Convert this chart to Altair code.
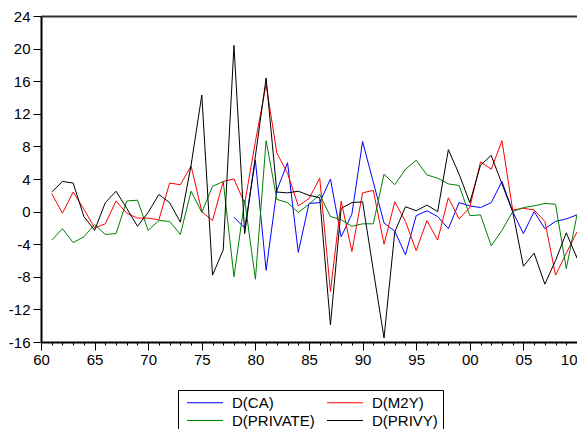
import altair as alt
import pandas as pd

FONT = "Liberation Sans"

years = list(range(1961, 2012))
privy = [2.4, 3.7, 3.5, -0.6, -2.3, 1.1, 2.5, 0.4, -1.8, -0.1,
         2.1, 1.1, -1.3, 5.7, 14.3, -7.8, -4.7, 20.4, -2.7, 6.8,
         16.4, 2.4, 2.3, 2.5, 2.0, 1.7, -13.9, 0.4, 1.1, 1.2,
         -7.2, -15.5, -2.5, 0.6, 0.1, 0.8, 0.0, 7.6, 4.6, 1.1,
         5.7, 6.9, 3.4, 0.0, -6.7, -5.1, -8.9, -6.0, -2.6, -5.7,
         7.0]
m2y = [2.2, -0.2, 2.4, 0.3, -2.0, -1.5, 1.3, -0.2, -0.8, -0.8,
       -1.0, 3.5, 3.3, 5.6, 0.0, -1.1, 3.7, 4.0, 1.0, 8.6,
       15.6, 7.2, 4.7, 0.7, 1.6, 4.1, -9.8, 1.3, -4.9, 2.3,
       2.6, -4.0, 1.2, -1.2, -4.8, -1.1, -3.5, 1.7, -0.9, 0.5,
       6.1, 5.2, 8.7, 0.2, 0.4, 0.2, -1.2, -7.8, -5.1, -2.5,
       -4.8]
private = [-3.5, -2.1, -3.8, -3.1, -1.6, -2.8, -2.7, 1.3, 1.4, -2.3,
           -1.1, -1.2, -2.8, 2.5, -0.1, 3.1, 3.7, -8.0, 1.4, -8.3,
           8.7, 1.5, 1.1, -0.1, 0.9, 2.1, -0.6, -1.0, -1.8, -1.5,
           -1.5, 4.6, 3.3, 5.2, 6.3, 4.5, 4.1, 3.4, 3.2, -0.5,
           -0.4, -4.2, -2.3, 0.0, 0.5, 0.7, 1.0, 0.9, -7.0, -0.4,
           -6.5]
ca_years = list(range(1978, 2011))
ca = [-0.7, -2.0, 6.3, -7.2, 2.6, 6.0, -5.0, 1.0, 1.1, 4.0,
      -3.1, -0.3, 8.6, 3.6, -1.4, -2.4, -5.3, -0.5, 0.1, -0.6,
      -2.1, 1.1, 0.7, 0.5, 1.1, 3.7, 0.0, -2.7, 0.0, -2.1,
      -1.2, -0.9, -0.4]

series_names = ["D(CA)", "D(M2Y)", "D(PRIVATE)", "D(PRIVY)"]
series_colors = ["#0000FF", "#FF0000", "#008000", "#000000"]

rows = []
for name, xs, vs in [("D(CA)", ca_years, ca), ("D(M2Y)", years, m2y),
                     ("D(PRIVATE)", years, private), ("D(PRIVY)", years, privy)]:
    for yr, v in zip(xs, vs):
        rows.append({"year": yr, "value": v, "series": name})
df = pd.DataFrame(rows)

major_years = list(range(1960, 2011, 5))
minor_years = list(range(1960, 2011))
y_ticks = list(range(-16, 25, 4))

xscale = alt.Scale(domain=[1960, 2010], nice=False, zero=False)
yscale = alt.Scale(domain=[-16, 24], nice=False, zero=False)

y_axis = alt.Axis(
    values=y_ticks, labelExpr="toString(datum.value)",
    tickSize=8, tickColor="black", tickWidth=1,
    domainColor="black", domainWidth=2, grid=False, title=None,
    labelFont=FONT, labelFontSize=15, labelColor="black",
    labelFlush=False, labelPadding=3, labelOverlap=False)

lines = alt.Chart(df).mark_line(strokeWidth=1, clip=True).encode(
    x=alt.X("year:Q", scale=xscale, axis=alt.Axis(
        orient="bottom",
        values=major_years, labelExpr="format(datum.value % 100, '02d')",
        labelAlign={"expr": "datum.value >= 2010 ? 'right' : 'center'"},
        tickSize=8, tickColor="black", tickWidth=1,
        domainColor="black", domainWidth=2, grid=False, title=None,
        labelFont=FONT, labelFontSize=15, labelColor="black",
        labelFlush=False, labelPadding=2, labelOverlap=False)),
    y=alt.Y("value:Q", scale=yscale, axis=y_axis),
    color=alt.Color("series:N", scale=alt.Scale(domain=series_names, range=series_colors),
                    legend=alt.Legend(
                        title=None, orient="none", legendX=137, legendY=374,
                        direction="horizontal",
                        columns=2, symbolType="M-0.7,0H6.5", symbolSize=100,
                        symbolStrokeWidth=1, labelFont=FONT, labelFontSize=15,
                        labelColor="black", labelOffset=34, strokeColor="black",
                        padding=5, columnPadding=8, rowPadding=2)),
)

minor = alt.Chart(df).mark_line(opacity=0).encode(
    x=alt.X("year:Q", scale=xscale, axis=alt.Axis(
        orient="bottom",
        values=minor_years, tickSize=3, tickColor="black", tickWidth=1,
        labels=False, domain=False, grid=False, title=None)),
    y=alt.Y("value:Q", scale=yscale, axis=y_axis),
)

top = alt.Chart(df).mark_line(opacity=0).encode(
    x=alt.X("year:Q", scale=xscale, axis=alt.Axis(
        orient="top", ticks=False, labels=False, grid=False, title=None,
        domain=True, domainColor="#333333", domainWidth=2)),
    y=alt.Y("value:Q", scale=yscale, axis=y_axis),
)

chart = alt.layer(lines, minor, top).resolve_axis(x="independent").properties(
    width=536, height=326,
    autosize=alt.AutoSizeParams(type="none"),
    padding={"left": 33, "top": 8, "right": 0, "bottom": 95},
    background="white",
).configure_view(strokeWidth=0)

chart.save("out.html", embed_options={"renderer": "svg", "actions": False})
